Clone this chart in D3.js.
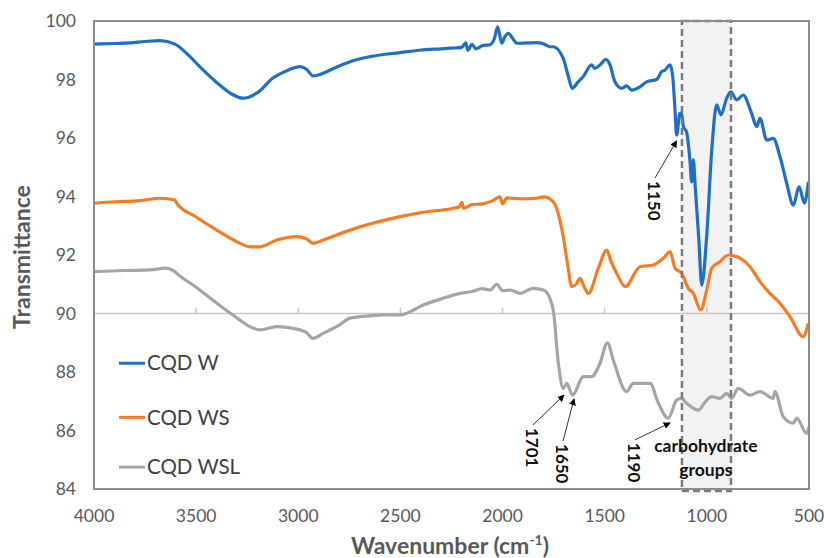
<!DOCTYPE html>
<html><head><meta charset="utf-8">
<script src="https://cdn.jsdelivr.net/npm/d3@7"></script>
<style>body{margin:0;background:#fff;}svg{display:block;}</style>
</head><body>
<svg id="chart" width="824" height="558"></svg>
<script>
const seriesNames = ["CQD W", "CQD WS", "CQD WSL"];
const seriesColors = ["#1f6fc9", "#f77b22", "#a5a5a5"];
const xTicks = [4000, 3500, 3000, 2500, 2000, 1500, 1000, 500];
const yTicks = [84, 86, 88, 90, 92, 94, 96, 98, 100];

const cqdW = [[4000,99.21],[3900,99.23],[3824,99.25],[3750,99.3],[3677,99.33],[3604,99.21],[3540,98.85],[3481,98.43],[3400,97.9],[3330,97.52],[3270,97.36],[3200,97.55],[3124,98.05],[3050,98.32],[2992,98.44],[2960,98.35],[2927,98.12],[2879,98.21],[2820,98.4],[2747,98.61],[2649,98.78],[2502,98.92],[2404,99.0],[2300,99.05],[2257,99.07],[2200,99.1],[2180,99.25],[2170,99.0],[2150,99.2],[2130,99.05],[2100,99.15],[2060,99.2],[2040,99.4],[2024,99.8],[2004,99.24],[1990,99.45],[1972,99.58],[1950,99.4],[1931,99.24],[1880,99.25],[1833,99.26],[1800,99.22],[1768,99.12],[1752,99.12],[1703,98.72],[1678,98.1],[1659,97.7],[1630,97.92],[1605,98.1],[1564,98.5],[1548,98.38],[1523,98.5],[1494,98.69],[1474,98.5],[1450,97.92],[1417,97.7],[1393,97.78],[1368,97.64],[1327,97.75],[1295,97.92],[1246,98.0],[1221,98.27],[1205,98.32],[1180,98.5],[1167,98.1],[1156,96.96],[1148,96.1],[1132,96.84],[1124,96.84],[1115,96.39],[1099,96.2],[1083,95.25],[1074,94.5],[1066,95.25],[1058,94.45],[1040,92.6],[1025,90.97],[1001,92.63],[976,95.59],[952,97.13],[931,96.79],[903,97.36],[883,97.58],[854,97.3],[822,97.47],[781,96.84],[756,96.39],[740,96.67],[707,95.93],[675,95.99],[642,95.36],[609,94.45],[577,93.71],[548,94.33],[523,93.77],[503,94.5]];

const cqdWS = [[4000,93.77],[3900,93.82],[3775,93.86],[3677,93.94],[3604,93.88],[3595,93.77],[3500,93.3],[3399,92.85],[3300,92.45],[3236,92.28],[3187,92.28],[3106,92.51],[3008,92.63],[2960,92.55],[2927,92.4],[2878,92.51],[2747,92.85],[2502,93.31],[2400,93.45],[2241,93.6],[2210,93.65],[2200,93.8],[2190,93.6],[2150,93.72],[2100,93.75],[2050,93.85],[2013,93.99],[2000,93.75],[1980,93.95],[1900,93.92],[1833,93.94],[1800,93.99],[1752,93.82],[1703,92.63],[1680,91.6],[1662,90.92],[1640,91.0],[1621,91.2],[1600,90.9],[1580,90.69],[1531,91.55],[1490,92.17],[1470,91.8],[1441,91.37],[1400,90.92],[1327,91.6],[1262,91.66],[1213,91.89],[1180,92.11],[1156,91.55],[1123,91.37],[1091,90.86],[1066,90.69],[1030,90.12],[1001,90.8],[976,91.55],[936,91.77],[895,92.0],[838,91.89],[789,91.6],[740,91.09],[691,90.69],[642,90.35],[593,89.89],[528,89.21],[504,89.66]];

const cqdWSL = [[4000,91.43],[3850,91.47],[3726,91.49],[3652,91.55],[3604,91.43],[3595,91.37],[3500,90.9],[3399,90.35],[3300,89.85],[3236,89.55],[3187,89.44],[3106,89.55],[3025,89.49],[2960,89.35],[2930,89.15],[2878,89.32],[2800,89.6],[2747,89.84],[2650,89.92],[2584,89.95],[2502,89.95],[2388,90.29],[2300,90.5],[2208,90.69],[2150,90.75],[2100,90.85],[2060,90.8],[2029,91.0],[2000,90.78],[1960,90.8],[1915,90.69],[1850,90.86],[1800,90.8],[1784,90.72],[1752,90.12],[1727,88.3],[1703,87.44],[1686,87.61],[1657,87.21],[1605,87.84],[1564,87.84],[1523,88.3],[1487,89.0],[1458,88.41],[1393,87.33],[1360,87.61],[1278,87.61],[1237,86.93],[1189,86.42],[1148,87.04],[1124,87.1],[1099,86.93],[1041,86.7],[1008,86.98],[976,87.16],[936,87.1],[903,87.27],[879,87.1],[846,87.44],[789,87.21],[740,87.33],[675,87.1],[667,87.33],[626,86.47],[577,86.25],[560,86.42],[511,85.9],[500,86.13]];

// annotation: label, arrow tip [wn, T], arrow tail [wn, T]
const peakLabels = ["1150", "1701", "1650", "1190"];
const peakTips = [[1148,95.9],[1699,87.21],[1650,87.08],[1180,86.26]];
const peakTails = [[1254,94.63],[1851,86.19],[1704,85.64],[1352,85.68]];
const regionRange = [1122, 882];
const regionLabel = ["carbohydrate", "groups"];

const svg = d3.select("#chart");
const m = {l: 94, t: 21, r: 809, b: 489};
const x = d3.scaleLinear().domain([4000, 500]).range([m.l, m.r]);
const y = d3.scaleLinear().domain([84, 100]).range([m.b, m.t]);
const font = "Lato, 'Open Sans', sans-serif";

svg.append("defs").append("marker").attr("id","arr").attr("viewBox","0 0 10 10")
  .attr("refX",9).attr("refY",5).attr("markerWidth",7).attr("markerHeight",7)
  .attr("markerUnits","userSpaceOnUse").attr("orient","auto")
  .append("path").attr("d","M0,0L10,5L0,10z").attr("fill","#000");

const rx0 = x(regionRange[0]), rx1 = x(regionRange[1]);
svg.append("rect").attr("x", rx0).attr("y", y(100)).attr("width", rx1 - rx0)
  .attr("height", y(84) - y(100) + 2).attr("fill", "#f2f2f2");

const ax = svg.append("g").attr("transform", `translate(0,${y(90)})`);
ax.append("line").attr("x1", m.l).attr("x2", m.r).attr("stroke", "#c8c8c8").attr("stroke-width", 1.5);
ax.selectAll("line.tk").data(xTicks.slice(1, -1)).enter().append("line").attr("class","tk")
  .attr("x1", d => x(d)).attr("x2", d => x(d)).attr("y1", -6).attr("y2", 0)
  .attr("stroke", "#c8c8c8").attr("stroke-width", 1.5);

const line = d3.line().curve(d3.curveMonotoneX).x(d => x(d[0])).y(d => y(d[1]));
const allSeries = [cqdW, cqdWS, cqdWSL];
[2, 1, 0].forEach(i => {
  svg.append("path").datum(allSeries[i]).attr("d", line).attr("fill", "none")
    .attr("stroke", seriesColors[i]).attr("stroke-width", 3.2).attr("stroke-linejoin", "round");
});

svg.append("rect").attr("x", rx0).attr("y", y(100)).attr("width", rx1 - rx0)
  .attr("height", y(84) - y(100) + 2).attr("fill", "none")
  .attr("stroke", "#7a7a7a").attr("stroke-width", 2.5).attr("stroke-dasharray", "7,4");

svg.append("rect").attr("x", m.l).attr("y", m.t).attr("width", m.r - m.l).attr("height", m.b - m.t)
  .attr("fill", "none").attr("stroke", "#8c8c8c").attr("stroke-width", 2);

svg.selectAll("text.yt").data(yTicks).enter().append("text").attr("class","yt")
  .attr("x", 76).attr("y", d => y(d)).attr("dy", "0.35em").attr("text-anchor", "end")
  .attr("font-family", font).attr("font-size", 17.5).attr("fill", "#595959").text(d => d);
svg.selectAll("text.xt").data(xTicks).enter().append("text").attr("class","xt")
  .attr("x", d => x(d)).attr("y", 522).attr("text-anchor", "middle")
  .attr("font-family", font).attr("font-size", 17.5).attr("fill", "#595959").text(d => d);

svg.append("text").attr("transform", `translate(30,${(m.t + m.b) / 2 + 2}) rotate(-90)`)
  .attr("text-anchor", "middle").attr("font-family", font).attr("font-weight", "bold")
  .attr("font-size", 23).attr("fill", "#595959").text("Transmittance");
const xt = svg.append("text").attr("x", 450).attr("y", 554).attr("text-anchor", "middle")
  .attr("font-family", font).attr("font-weight", "bold").attr("font-size", 23).attr("fill", "#595959");
xt.append("tspan").text("Wavenumber (cm");
xt.append("tspan").attr("dy", -9).attr("font-size", 14).text("-1");
xt.append("tspan").attr("dy", 9).text(")");

const legY = [88.3, 86.45, 84.75];
seriesNames.forEach((n, i) => {
  const ly = y(legY[i]);
  svg.append("line").attr("x1", 119).attr("x2", 145).attr("y1", ly).attr("y2", ly)
    .attr("stroke", seriesColors[i]).attr("stroke-width", 3);
  svg.append("text").attr("x", 147).attr("y", ly).attr("dy", "0.35em")
    .attr("font-family", font).attr("font-size", 20.5).attr("fill", "#404040").text(n);
});

peakLabels.forEach((lab, i) => {
  const tip = peakTips[i], tail = peakTails[i];
  svg.append("line").attr("x1", x(tail[0])).attr("y1", y(tail[1]))
    .attr("x2", x(tip[0])).attr("y2", y(tip[1])).attr("stroke", "#333").attr("stroke-width", 1)
    .attr("marker-end", "url(#arr)");
  svg.append("text").attr("transform", `translate(${x(tail[0]) - 1},${y(tail[1]) + 3}) rotate(90)`)
    .attr("text-anchor", "start").attr("dy", "0.35em")
    .attr("font-family", font).attr("font-weight", "bold").attr("font-size", 17).attr("fill", "#111").text(lab);
});

regionLabel.forEach((t, i) => {
  svg.append("text").attr("x", x(1005)).attr("y", 452 + i * 24).attr("text-anchor", "middle")
    .attr("font-family", font).attr("font-weight", "bold").attr("font-size", 17.5).attr("fill", "#111").text(t);
});
</script>
</body></html>
